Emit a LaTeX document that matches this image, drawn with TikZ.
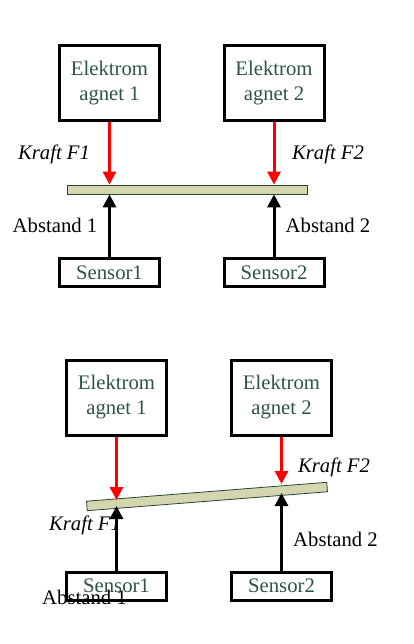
\documentclass[tikz,border=0pt]{standalone}
\usepackage{fontspec}
\setmainfont{Liberation Serif}
\usetikzlibrary{arrows.meta}
\definecolor{txtgreen}{RGB}{45,85,64}
\definecolor{barfill}{RGB}{212,214,176}
\definecolor{barline}{RGB}{40,70,50}
\begin{document}
\begin{tikzpicture}[x=1pt,y=-1pt,
  magbox/.style={draw=black,line width=3pt,minimum width=100pt,minimum height=75pt,inner sep=0pt,
    align=center,text=txtgreen,font=\fontsize{20.7}{25}\selectfont},
  sensbox/.style={draw=black,line width=3pt,minimum width=100pt,minimum height=28pt,inner sep=0pt,
    text=txtgreen,font=\fontsize{20.7}{25}\selectfont},
  beam/.style={draw=barline,line width=0.8pt,fill=barfill,minimum width=240pt,minimum height=9pt,inner sep=0pt},
  forcearrow/.style={draw=red,line width=3pt,-{Triangle[length=13pt,width=13pt]}},
  distarrow/.style={draw=black,line width=3pt,-{Triangle[length=13pt,width=13pt]}},
  lbl/.style={font=\fontsize{20.7}{25}\selectfont,inner sep=0pt},
  klbl/.style={font=\fontsize{20.7}{25}\selectfont\itshape,inner sep=0pt}]
\useasboundingbox (0,0) rectangle (413,644);
% ---------- top diagram ----------
\node[magbox] (e1) at (109.5,83) {Elektrom\\agnet 1};
\node[magbox] (e2) at (274,83) {Elektrom\\agnet 2};
\node[beam] (bar) at (187,189.5) {};
\node[sensbox] (s1) at (109.5,272.5) {Sensor1};
\node[sensbox] (s2) at (274,272.5) {Sensor2};
\draw[forcearrow] (e1.south) -- (e1.south |- bar.north);
\draw[forcearrow] (e2.south) -- (e2.south |- bar.north);
\draw[distarrow] (s1.north) -- (s1.north |- bar.south);
\draw[distarrow] (s2.north) -- (s2.north |- bar.south);
\node[klbl] (k1) at (54,154) {Kraft F1};
\node[klbl] (k2) at (328,154) {Kraft F2};
\node[lbl] (a1) at (55,225) {Abstand 1};
\node[lbl] (a2) at (328,225) {Abstand 2};
% ---------- bottom diagram ----------
\node[magbox] (f1) at (116.5,397.5) {Elektrom\\agnet 1};
\node[magbox] (f2) at (281.5,397.5) {Elektrom\\agnet 2};
\node[beam,minimum width=241pt,minimum height=9.5pt,rotate=4.5] (tbar) at (207,496.5) {};
\node[sensbox] (t1) at (116.5,586) {Sensor1};
\node[sensbox] (t2) at (281.5,586) {Sensor2};
\coordinate (p1) at (116.5,500);
\coordinate (p2) at (281.5,484);
\coordinate (q1) at (116.5,506);
\coordinate (q2) at (281.5,493);
\draw[forcearrow] (f1.south) -- (p1);
\draw[forcearrow] (f2.south) -- (p2);
\draw[distarrow] (t1.north) -- (q1);
\draw[distarrow] (t2.north) -- (q2);
\node[klbl] (kk1) at (85,525) {Kraft F1};
\node[klbl] (kk2) at (334,467) {Kraft F2};
\node[lbl] (aa2) at (335.5,539) {Abstand 2};
\node[lbl] (aa1) at (84.5,597) {Abstand 1};
\end{tikzpicture}
\end{document}
